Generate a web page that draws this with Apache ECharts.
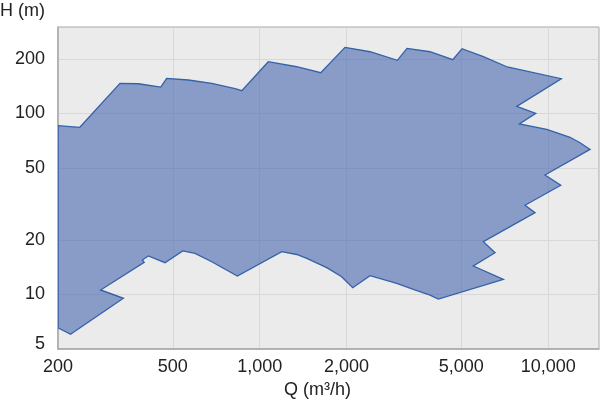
<!DOCTYPE html>
<html><head><meta charset="utf-8">
<script src="https://cdn.jsdelivr.net/npm/echarts@6/dist/echarts.min.js"></script>
<style>html,body{margin:0;padding:0;background:#fff}#c{width:600px;height:400px}</style>
</head><body><div id="c"></div>
<script>
// Outline of the operating range, clockwise from the top-left corner
const flowQ = [200, 238, 328, 380, 454, 476, 566, 682, 822, 867,
  1071, 1344, 1628, 1976, 2413, 3000, 3241, 3894, 4669, 5028,
  5961, 7219, 11105, 7780, 9055, 7943, 9884, 11905, 12893, 13964, 9750,
  11054, 8312, 9005, 5961, 6543, 5502, 6991, 4161, 3894, 3409, 2985,
  2413, 2102, 2003, 1924, 1708, 1456, 1344, 1193, 837, 682, 597, 541,
  470, 411, 392, 398, 281, 337, 221, 200];
const headH = [85.5, 83.8, 146.6, 145.8, 139.8, 156.2, 152.9, 146.6, 136.9, 133.4,
  192.9, 181.0, 167.7, 231.6, 219.0, 196.4, 228.7, 219.0, 197.9, 227.6,
  205.6, 180.4, 155.4, 109.4, 100.1, 87.4, 81.7, 73.8, 68.9, 63.3, 45.7,
  40.1, 31.1, 28.3, 19.56, 17.01, 14.37, 12.13, 9.44, 9.93, 10.68, 11.53,
  12.70, 10.90, 11.76, 12.54, 14.06, 15.84, 16.63, 17.23, 12.65, 15.17, 16.88, 17.39,
  14.98, 16.31, 15.50, 15.05, 10.59, 9.53, 6.03, 6.55];
const xTickValues = [200, 500, 1000, 2000, 5000, 10000];
const yTickValues = [5, 10, 20, 50, 100, 200];
const xName = 'Q (m³/h)';
const yName = 'H (m)';

const chart = echarts.init(document.getElementById('c'), null, {renderer: 'canvas'});
const FONT = 'Liberation Sans, Arial, Helvetica, sans-serif';
const FS = 18;
const fmt = v => Number(v).toLocaleString('en-US');

chart.setOption({
  animation: false,
  grid: {left: 58, right: 1, top: 27, bottom: 51, show: true, outerBoundsMode: 'none',
    containLabel: false,
    backgroundColor: '#ebebeb', borderColor: '#a8a8a8', borderWidth: 1},
  xAxis: {
    type: 'log', min: 200, max: 15000,
    name: xName, nameLocation: 'middle', nameGap: 30,
    nameTextStyle: {color: '#222', fontSize: FS, fontFamily: FONT, padding: [0, 22, 0, 0]},
    axisLine: {show: true, lineStyle: {color: '#a8a8a8', width: 1.5}},
    axisTick: {show: false, customValues: xTickValues},
    axisLabel: {customValues: xTickValues, color: '#222', fontSize: FS, fontFamily: FONT,
      margin: 9, formatter: v => fmt(v)},
    splitLine: {show: true, lineStyle: {color: '#d8d8d8', width: 1}}
  },
  yAxis: {
    type: 'log', min: 5, max: 300,
    name: yName, nameLocation: 'end', nameGap: 7,
    nameTextStyle: {color: '#222', fontSize: FS, fontFamily: FONT, align: 'right', padding: [0, 13, 0, 0]},
    axisLine: {show: true, lineStyle: {color: '#a8a8a8', width: 1.5}},
    axisTick: {show: false, customValues: yTickValues},
    axisLabel: {customValues: yTickValues, color: '#222', fontSize: FS, fontFamily: FONT,
      margin: 13,
      formatter: v => (Math.abs(v - 5) < 1e-6 ? '{low|' + fmt(v) + '}' : fmt(v)),
      rich: {low: {padding: [0, 0, 10, 0], color: '#222', fontSize: FS, fontFamily: FONT}}},
    splitLine: {show: true, lineStyle: {color: '#d8d8d8', width: 1}}
  },
  series: [{
    type: 'custom',
    coordinateSystem: 'cartesian2d',
    data: [[flowQ[0], headH[0]]],
    clip: true,
    renderItem: function (params, api) {
      const pts = flowQ.map((q, i) => api.coord([q, headH[i]]));
      return {
        type: 'polygon',
        shape: {points: pts},
        style: {fill: 'rgba(72,102,175,0.6)', stroke: '#3462a8', lineWidth: 1.3, lineJoin: 'miter'}
      };
    }
  }]
});
</script>
</body></html>
